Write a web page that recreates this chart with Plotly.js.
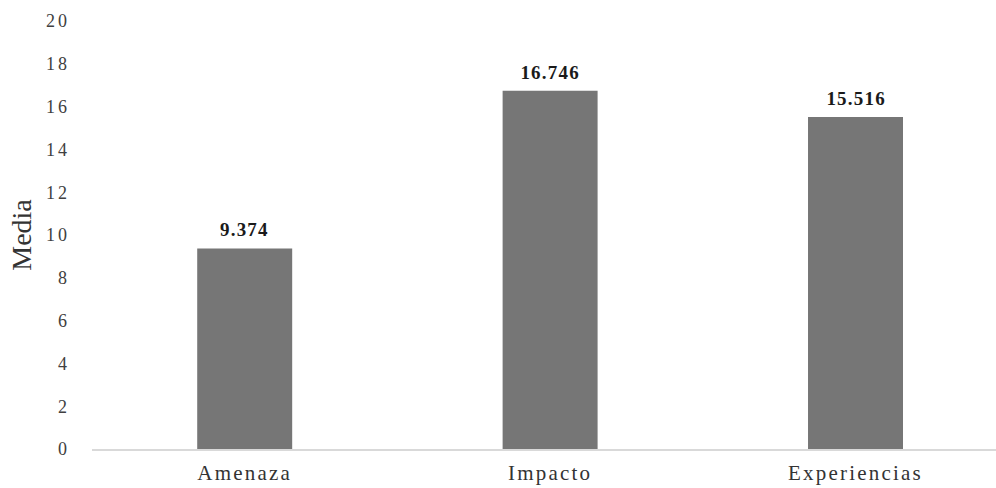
<!DOCTYPE html>
<html>
<head>
<meta charset="utf-8">
<script src="https://cdn.plot.ly/plotly-3.0.1.min.js"></script>
<style>
html,body{margin:0;padding:0;background:#fff;}
#chart{width:996px;height:488px;}
#chart .xtick text{letter-spacing:2.2px;}
#chart .ytick text{letter-spacing:3px;}
#chart .annotation-text{letter-spacing:1.2px;}
</style>
</head>
<body>
<div id="chart"></div>
<script>
const categories = ["Amenaza", "Impacto", "Experiencias"];
const values = [9.374, 16.746, 15.516];
const valueLabels = ["9.374", "16.746", "15.516"];
const yTicks = [0, 2, 4, 6, 8, 10, 12, 14, 16, 18, 20];

const serif = "Liberation Serif, Times New Roman, serif";

const trace = {
  type: "bar",
  x: categories,
  y: values,
  marker: {color: "#767676", line: {width: 0}},
  hoverinfo: "none"
};

const annotations = categories.map((c, i) => ({
  x: c, y: values[i], xref: "x", yref: "y",
  text: "<b>" + valueLabels[i] + "</b>",
  showarrow: false, yanchor: "bottom", yshift: 6,
  font: {family: serif, size: 19, color: "#1a1a1a"}
}));

const layout = {
  width: 996, height: 488,
  margin: {l: 92, r: 0, t: 21, b: 39},
  paper_bgcolor: "#ffffff", plot_bgcolor: "#ffffff",
  bargap: 0.689,
  showlegend: false,
  annotations: annotations,
  xaxis: {
    range: [-0.5, 2.46],
    showgrid: false, zeroline: false,
    showline: true, linecolor: "#d9d9d9", linewidth: 1.5,
    ticks: "",
    tickfont: {family: serif, size: 21, color: "#333333"},
    ticklabelstandoff: 4
  },
  yaxis: {
    range: [0, 20],
    tickvals: yTicks,
    showgrid: false, zeroline: false, showline: false,
    ticks: "",
    tickfont: {family: serif, size: 18, color: "#404040"},
    ticklabelstandoff: 21,
    title: {text: "Media", font: {family: serif, size: 28, color: "#333333"}, standoff: 12}
  }
};

Plotly.newPlot("chart", [trace], layout, {displayModeBar: false, staticPlot: true});
</script>
</body>
</html>
